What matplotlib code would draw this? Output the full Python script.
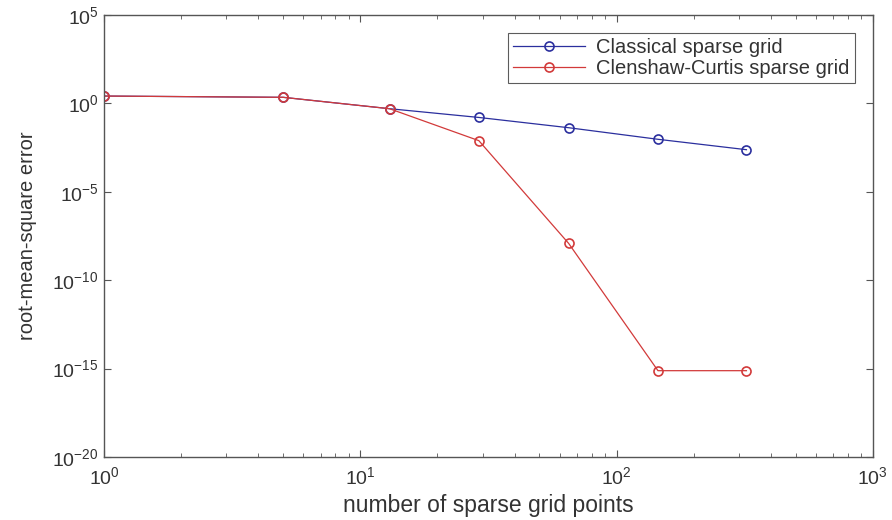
import matplotlib
matplotlib.use("Agg")
import matplotlib.pyplot as plt
from matplotlib.ticker import LogLocator, FixedLocator, NullFormatter

# Number of sparse grid points per level
grid_points = [1, 5, 13, 29, 65, 145, 321]

# Root-mean-square error for each construction
classical_rmse = [2.6, 2.2, 0.5, 0.16, 0.042, 0.0093, 0.0024]
clenshaw_curtis_rmse = [2.6, 2.2, 0.5, 0.0078, 1.2e-8, 7.6e-16, 7.6e-16]

series_labels = ["Classical sparse grid", "Clenshaw-Curtis sparse grid"]
x_label = "number of sparse grid points"
y_label = "root-mean-square error"

plt.rcParams["font.family"] = ["Liberation Sans", "DejaVu Sans"]
plt.rcParams["axes.unicode_minus"] = False
plt.rcParams["mathtext.fontset"] = "custom"
plt.rcParams["mathtext.rm"] = "Liberation Sans"
plt.rcParams["mathtext.it"] = "Liberation Sans"
plt.rcParams["mathtext.default"] = "regular"
text_color = "#333333"
axis_color = "#555555"

fig = plt.figure(figsize=(8.92, 5.2), dpi=100)
ax = fig.add_axes([0.1166, 0.1212, 0.862, 0.85])

ax.loglog(grid_points, classical_rmse, "-o", color="#2b2f9e", lw=0.9,
          ms=6.5, mfc="none", mew=1.2, label=series_labels[0])
ax.loglog(grid_points, clenshaw_curtis_rmse, "-o", color="#d23a3a", lw=0.9,
          ms=6.5, mfc="none", mew=1.2, label=series_labels[1])

ax.set_xlim(1, 1000)
ax.set_ylim(1e-20, 1e5)

ax.xaxis.set_major_locator(FixedLocator([1, 10, 100, 1000]))
ax.xaxis.set_minor_locator(LogLocator(base=10, subs=range(2, 10)))
ax.xaxis.set_minor_formatter(NullFormatter())
ax.yaxis.set_major_locator(FixedLocator([10.0 ** e for e in range(-20, 6, 5)]))
ax.yaxis.set_minor_locator(FixedLocator([]))

ax.tick_params(which="both", direction="in", top=True, right=True,
               colors=axis_color, labelcolor=text_color, labelsize=14)
ax.tick_params(which="major", length=5, width=0.8)
ax.tick_params(which="minor", length=3, width=0.6)
ax.tick_params(axis="x", pad=7)
ax.tick_params(axis="y", pad=4)
for s in ax.spines.values():
    s.set_color(axis_color)
    s.set_linewidth(1.0)

ax.set_xlabel(x_label, fontsize=16.5, color=text_color, labelpad=4)
ax.set_ylabel(y_label, fontsize=14.5, color=text_color, labelpad=11)

leg = ax.legend(loc="upper right", fontsize=14.5, numpoints=1,
                handlelength=3.6, frameon=True, fancybox=False,
                borderaxespad=0.9, borderpad=0.25, labelspacing=0.08,
                handletextpad=0.55)
leg.get_frame().set_edgecolor("#333333")
leg.get_frame().set_linewidth(0.8)
for t in leg.get_texts():
    t.set_color(text_color)

fig.savefig("out.png", dpi=100)
